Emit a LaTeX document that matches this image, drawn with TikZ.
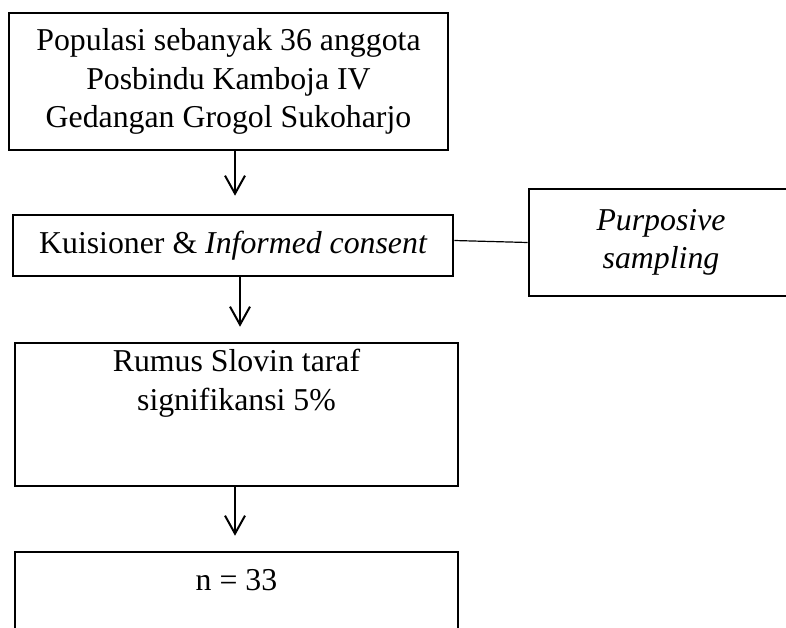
\documentclass[tikz,border=0pt]{standalone}
\usepackage{fontspec}
\setmainfont{Liberation Serif}
\usetikzlibrary{arrows.meta}
\usetikzlibrary{positioning}
\begin{document}
\begin{tikzpicture}[x=0.5pt,y=-0.5pt,font=\fontsize{15.9}{19.25}\selectfont,>={Straight Barb[length=9pt,width=10pt]}]
				\useasboundingbox (0,0) rectangle (786,627);
				\clip (0,0) rectangle (786,627);
				\node[draw,line width=1.3pt,rectangle,align=center,inner sep=4pt,minimum width=219.5pt,minimum height=68.5pt] (POPULASI) at (228.5,81.5) {Populasi sebanyak 36 anggota\\Posbindu Kamboja IV\\Gedangan Grogol Sukoharjo};
				\node[draw,line width=1.3pt,rectangle,align=center,inner sep=4pt,minimum width=220pt,minimum height=30.5pt] (KUISIONER) at (233,245.5) {Kuisioner \& {\it Informed consent}};
				\node[draw,line width=1.3pt,rectangle,align=center,inner sep=4pt,minimum width=132pt,minimum height=53.5pt] (PURPOSIVE) at (661,242.5) {\it Purposive\\\it sampling};
				\node[draw,line width=1.3pt,rectangle,align=center,inner sep=4pt,minimum width=221.5pt,text height=29.5pt,text depth=34pt] (SLOVIN) at (236.5,414.5) {Rumus Slovin taraf\\signifikansi 5\%};
				\node[draw,line width=1.3pt,rectangle,align=center,inner sep=4pt,minimum width=221.5pt,text height=15pt,text depth=48.5pt] (SAMPEL) at (236.5,623.5) {n = 33};
				\draw[line width=1pt,->,shorten >=9pt] ([xshift=3.25pt]POPULASI.south) -- ([xshift=3.25pt]POPULASI.south |- KUISIONER.north);
				\draw[line width=1pt,->,shorten >=7.5pt] ([xshift=3.5pt]KUISIONER.south) -- ([xshift=3.5pt]KUISIONER.south |- SLOVIN.north);
				\draw[line width=1pt,->,shorten >=7.5pt] ([xshift=-0.75pt]SLOVIN.south) -- ([xshift=-0.75pt]SLOVIN.south |- SAMPEL.north);
				\draw[line width=0.6pt] ([yshift=2.5pt]KUISIONER.east) -- (PURPOSIVE.west);
			\end{tikzpicture}
\end{document}
